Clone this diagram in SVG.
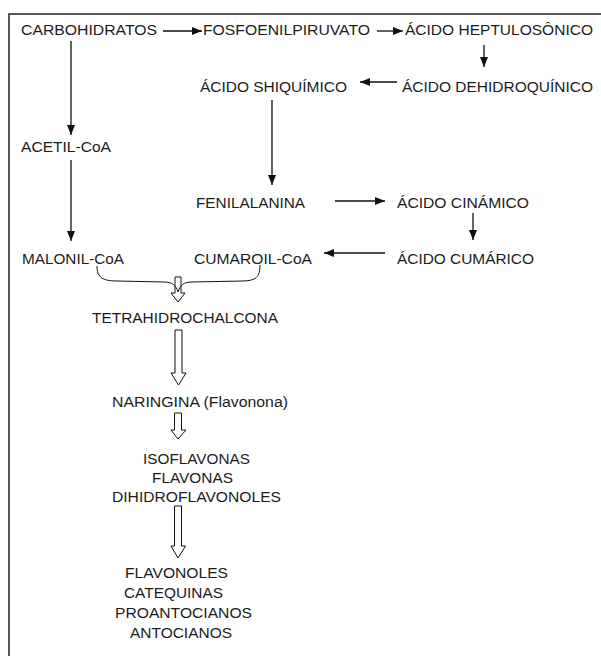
<svg xmlns="http://www.w3.org/2000/svg" width="601" height="658" viewBox="0 0 601 658">
<defs>
<style>
text{font-family:"Liberation Sans",Arial,sans-serif;font-size:15.5px;fill:#1c1c1c;}
.c{stroke:#111;stroke-width:1.3;fill:none;}
.h{stroke:#111;stroke-width:1;fill:#fff;}
.b{stroke:#222;stroke-width:1.5;fill:none;}
</style>
<marker id="ah" markerUnits="userSpaceOnUse" markerWidth="11" markerHeight="9" refX="10" refY="4" orient="auto">
<path d="M0,0 L10,4 L0,8 Z" fill="#111"/>
</marker>
</defs>
<rect width="601" height="658" fill="#fff"/>
<path class="b" d="M601,14 H9 V656"/>
<g id="n-carbohidratos"><text x="21" y="35" textLength="136" lengthAdjust="spacingAndGlyphs">CARBOHIDRATOS</text></g>
<g id="n-fosfoenilpiruvato"><text x="203" y="35" textLength="167" lengthAdjust="spacingAndGlyphs">FOSFOENILPIRUVATO</text></g>
<g id="n-heptulosonico"><text x="405" y="35" textLength="188" lengthAdjust="spacingAndGlyphs">ÁCIDO HEPTULOSÔNICO</text></g>
<g id="n-shiquimico"><text x="200" y="92" textLength="147" lengthAdjust="spacingAndGlyphs">ÁCIDO SHIQUÍMICO</text></g>
<g id="n-dehidroquinico"><text x="402" y="92" textLength="191" lengthAdjust="spacingAndGlyphs">ÁCIDO DEHIDROQUÍNICO</text></g>
<g id="n-acetil"><text x="21" y="152" textLength="90" lengthAdjust="spacingAndGlyphs">ACETIL-CoA</text></g>
<g id="n-fenilalanina"><text x="196" y="208" textLength="109" lengthAdjust="spacingAndGlyphs">FENILALANINA</text></g>
<g id="n-cinamico"><text x="397" y="208" textLength="132" lengthAdjust="spacingAndGlyphs">ÁCIDO CINÁMICO</text></g>
<g id="n-malonil"><text x="22" y="264" textLength="102" lengthAdjust="spacingAndGlyphs">MALONIL-CoA</text></g>
<g id="n-cumaroil"><text x="194" y="264" textLength="118" lengthAdjust="spacingAndGlyphs">CUMAROIL-CoA</text></g>
<g id="n-cumarico"><text x="397" y="264" textLength="137" lengthAdjust="spacingAndGlyphs">ÁCIDO CUMÁRICO</text></g>
<g id="n-tetrahidrochalcona"><text x="92" y="323" textLength="186" lengthAdjust="spacingAndGlyphs">TETRAHIDROCHALCONA</text></g>
<g id="n-naringina"><text x="112" y="407" textLength="176" lengthAdjust="spacingAndGlyphs">NARINGINA (Flavonona)</text></g>
<g id="n-isoflavonas">
<text x="143" y="464" textLength="107" lengthAdjust="spacingAndGlyphs">ISOFLAVONAS</text>
<text x="152" y="483" textLength="81" lengthAdjust="spacingAndGlyphs">FLAVONAS</text>
<text x="112" y="502" textLength="169" lengthAdjust="spacingAndGlyphs">DIHIDROFLAVONOLES</text>
</g>
<g id="n-flavonoles">
<text x="125" y="578" textLength="103" lengthAdjust="spacingAndGlyphs">FLAVONOLES</text>
<text x="124" y="598" textLength="99" lengthAdjust="spacingAndGlyphs">CATEQUINAS</text>
<text x="115" y="618" textLength="137" lengthAdjust="spacingAndGlyphs">PROANTOCIANOS</text>
<text x="130" y="638" textLength="102" lengthAdjust="spacingAndGlyphs">ANTOCIANOS</text>
</g>
<g id="connectors">
<line class="c" x1="163" y1="31" x2="202" y2="31" marker-end="url(#ah)"/>
<line class="c" x1="377" y1="31" x2="403" y2="31" marker-end="url(#ah)"/>
<line class="c" x1="484" y1="45" x2="484" y2="67" marker-end="url(#ah)"/>
<line class="c" x1="397" y1="82" x2="360" y2="82" marker-end="url(#ah)"/>
<line class="c" x1="272" y1="100" x2="272" y2="185" marker-end="url(#ah)"/>
<line class="c" x1="71" y1="41" x2="71" y2="135" marker-end="url(#ah)"/>
<line class="c" x1="71" y1="160" x2="71" y2="241" marker-end="url(#ah)"/>
<line class="c" x1="335" y1="201" x2="385" y2="201" marker-end="url(#ah)"/>
<line class="c" x1="473" y1="213" x2="473" y2="240" marker-end="url(#ah)"/>
<line class="c" x1="385" y1="253" x2="324" y2="253" marker-end="url(#ah)"/>
<path class="h" d="M175,277 H181 V293 H185 L178,302 L171,293 H175 Z"/>
<path class="c" style="stroke-width:1" d="M97,266 C97,278 103,281 118,281 L164,282 C172,282 176,285 178,292 C180,285 184,282 192,282 L242,281 C256,281 260,277 260,265"/>
<path class="h" d="M175,330 H182 V373 H186 L178.5,385 L171,373 H175 Z"/>
<path class="h" d="M174.5,413 H181.5 V430 H186 L178,439 L171,430 H174.5 Z"/>
<path class="h" d="M174.5,506 H181.5 V546 H185.5 L178,558 L171,546 H174.5 Z"/>
</g>
</svg>
